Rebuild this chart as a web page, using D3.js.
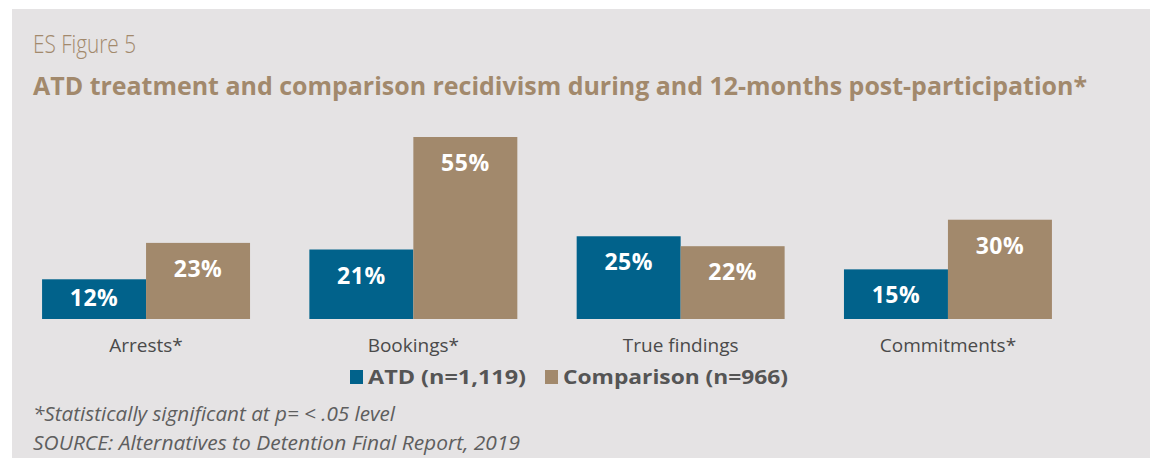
<!DOCTYPE html>
<html>
<head>
<meta charset="utf-8">
<script src="https://cdn.jsdelivr.net/npm/d3@7"></script>
<style>
  html, body { margin: 0; padding: 0; background: #fff; }
  svg { display: block; }
  text { font-family: "Open Sans", "Noto Sans", sans-serif; }
</style>
</head>
<body>
<div id="chart"></div>
<script>
// chart data
const categories = ["Arrests*", "Bookings*", "True findings", "Commitments*"];
const seriesNames = ["ATD (n=1,119)", "Comparison (n=966)"];
const atdValues = [12, 21, 25, 15];
const comparisonValues = [23, 55, 22, 30];
const colors = ["#01628b", "#a2896c"];

const width = 1150, height = 458;

const svg = d3.select('#chart').append('svg')
  .attr('width', width)
  .attr('height', height);

// gray panel
svg.append('rect')
  .attr('x', 12).attr('y', 9)
  .attr('width', width - 12).attr('height', height - 9)
  .attr('fill', '#e5e3e4');

// titles
svg.append('text')
  .attr('x', 33).attr('y', 53)
  .attr('fill', '#a2896c')
  .attr('font-size', 25)
  .attr('font-weight', 300)
  .attr('textLength', 103)
  .attr('lengthAdjust', 'spacingAndGlyphs')
  .text('ES Figure 5');

svg.append('text')
  .attr('x', 33).attr('y', 95)
  .attr('fill', '#a2896c')
  .attr('font-size', 25)
  .attr('font-weight', 700)
  .attr('textLength', 1054)
  .attr('lengthAdjust', 'spacingAndGlyphs')
  .text('ATD treatment and comparison recidivism during and 12-months post-participation*');

// scales
let x0 = d3.scaleBand()
  .domain(categories)
  .range([12.4, 1081.6])
  .paddingInner(0.222)
  .paddingOuter(0.111);

let x1 = d3.scaleBand()
  .domain([0, 1])
  .range([0, x0.bandwidth()]);

let y = d3.scaleLinear()
  .domain([0, 55])
  .range([319, 137]);

let data = categories.map((c, i) => ({
  cat: c,
  vals: [atdValues[i], comparisonValues[i]]
}));

let groups = svg.selectAll('g.group').data(data).enter().append('g')
  .attr('class', 'group')
  .attr('transform', (d) => `translate(${x0(d.cat)},0)`);

let bars = groups.selectAll('g.bar')
  .data((d) => d.vals.map((v, s) => ({ v: v, s: s })))
  .enter().append('g')
  .attr('class', 'bar');

bars.append('rect')
  .attr('x', (d) => x1(d.s))
  .attr('y', (d) => y(d.v))
  .attr('width', x1.bandwidth())
  .attr('height', (d) => y(0) - y(d.v))
  .attr('fill', (d) => colors[d.s]);

// value labels inside bars
bars.append('text')
  .attr('x', (d) => x1(d.s) + x1.bandwidth() / 2)
  .attr('y', (d) => Math.min(y(d.v) + 34, y(0) - 13))
  .attr('text-anchor', 'middle')
  .attr('fill', '#fff')
  .attr('font-size', 23)
  .attr('font-weight', 700)
  .attr('letter-spacing', 0.5)
  .text((d) => d.v + '%');

// category axis labels
svg.append('g')
  .attr('transform', `translate(0,${y(0)})`)
  .call(d3.axisBottom(x0).tickSize(0).tickPadding(0))
  .call((g) => g.select('.domain').remove())
  .selectAll('text')
  .attr('y', 33)
  .attr('dy', null)
  .attr('fill', '#4a4a4a')
  .attr('font-size', 19)
  .attr('font-family', '"Open Sans", "Noto Sans", sans-serif');

// legend
let legendX = [350, 545];
let legendW = [158, 225];
let legend = svg.selectAll('g.legend').data(seriesNames).enter().append('g')
  .attr('class', 'legend')
  .attr('transform', (d, i) => `translate(${legendX[i]},370)`);

legend.append('rect')
  .attr('width', 13).attr('height', 14)
  .attr('fill', (d, i) => colors[i]);

legend.append('text')
  .attr('x', 18).attr('y', 14)
  .attr('fill', '#555')
  .attr('font-size', 20)
  .attr('font-weight', 700)
  .attr('textLength', (d, i) => legendW[i])
  .attr('lengthAdjust', 'spacingAndGlyphs')
  .text((d) => d);

// footnotes
svg.append('text')
  .attr('x', 33).attr('y', 421)
  .attr('fill', '#5e5e5e')
  .attr('font-size', 20)
  .attr('font-style', 'italic')
  .attr('textLength', 362)
  .attr('lengthAdjust', 'spacingAndGlyphs')
  .text('*Statistically significant at p= < .05 level');

svg.append('text')
  .attr('x', 33).attr('y', 450)
  .attr('fill', '#5e5e5e')
  .attr('font-size', 20)
  .attr('font-style', 'italic')
  .attr('textLength', 487)
  .attr('lengthAdjust', 'spacingAndGlyphs')
  .text('SOURCE: Alternatives to Detention Final Report, 2019');
</script>
</body>
</html>
